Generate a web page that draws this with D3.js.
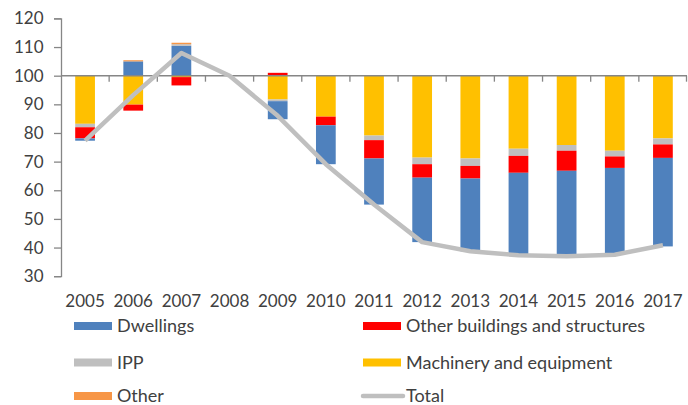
<!DOCTYPE html>
<html>
<head>
<meta charset="utf-8">
<script src="https://cdn.jsdelivr.net/npm/d3@7"></script>
<style>
  html, body { margin: 0; padding: 0; background: #fff; }
  svg text { font-family: Lato, "Open Sans", sans-serif; fill: #404040; }
</style>
</head>
<body>
<svg id="chart" width="688" height="405"></svg>
<script>
// ---- data ----
const years = ["2005","2006","2007","2008","2009","2010","2011","2012","2013","2014","2015","2016","2017"];
const dwellings      = [-0.8, 5.0, 10.4, 0, -6.3, -13.6, -16.1, -22.5, -25.4, -28.8, -29.8, -30.3, -30.9];
const otherBuildings = [-3.9, -2.1, -2.9, 0, 1.0, -3.0, -6.4, -4.7, -4.4, -5.9, -7.0, -4.0, -4.7];
const ipp            = [-1.2, 0, 0.6, 0, -0.6, 0, -1.6, -2.3, -2.6, -2.5, -2.0, -2.0, -2.1];
const machinery      = [-16.8, -10.1, -0.5, 0, -8.3, -14.3, -20.9, -28.6, -28.9, -25.5, -24.2, -26.2, -21.9];
const other          = [0, 0.4, 0.5, 0, 0, 0, 0, 0, 0, 0, 0, 0, 0];
const total          = [77.3, 93.2, 107.9, 100, 86.0, 69.1, 55.0, 41.9, 38.7, 37.3, 37.0, 37.5, 40.8];
const yTicks = [30, 40, 50, 60, 70, 80, 90, 100, 110, 120];
const baseValue = 100;

const series = [
  { name: "Dwellings", values: dwellings, color: "#4F81BD" },
  { name: "Other buildings and structures", values: otherBuildings, color: "#FF0000" },
  { name: "IPP", values: ipp, color: "#BFBFBF" },
  { name: "Machinery and equipment", values: machinery, color: "#FFC000" },
  { name: "Other", values: other, color: "#F79646" }
];

// ---- scales ----
const svg = d3.select("#chart");
const x = d3.scaleBand().domain(years).range([61, 687]).padding(0);
const y = d3.scaleLinear().domain([30, 120]).range([276.2, 18.4]);
const barW = x.bandwidth() * 0.41;

// ---- stacked segments: positives in series order, negatives in reverse order ----
const segs = [];
years.forEach((yr, i) => {
  let pos = baseValue;
  series.forEach(s => {
    const v = s.values[i];
    if (v > 0) { segs.push({ yr, y0: pos, y1: pos + v, color: s.color }); pos += v; }
  });
  let neg = baseValue;
  series.slice().reverse().forEach(s => {
    const v = s.values[i];
    if (v < 0) { segs.push({ yr, y0: neg + v, y1: neg, color: s.color }); neg += v; }
  });
});

svg.append("g").selectAll("rect").data(segs).join("rect")
  .attr("x", d => x(d.yr) + (x.bandwidth() - barW) / 2)
  .attr("width", barW)
  .attr("y", d => y(d.y1))
  .attr("height", d => y(d.y0) - y(d.y1))
  .attr("fill", d => d.color);

// ---- y axis ----
const yAxis = svg.append("g").attr("transform", "translate(61,0)")
  .call(d3.axisLeft(y).tickValues(yTicks).tickSize(7).tickPadding(10.5).tickFormat(d3.format("d")));
yAxis.select(".domain").attr("stroke", "#868686").attr("stroke-width", 1.3);
yAxis.selectAll(".tick line").attr("stroke", "#868686").attr("stroke-width", 1.3);
yAxis.selectAll(".tick text").attr("font-size", 17).style("fill", "#404040");

// ---- x axis at base value ----
const xg = svg.append("g").attr("transform", `translate(0,${y(baseValue)})`);
xg.append("line").attr("x1", 61).attr("x2", 687).attr("y1", 0).attr("y2", 0)
  .attr("stroke", "#868686").attr("stroke-width", 1.6);
xg.selectAll("line.tk").data(years.slice(1).concat(["end"])).join("line")
  .attr("class", "tk")
  .attr("x1", d => d === "end" ? 686.5 : x(d)).attr("x2", d => d === "end" ? 686.5 : x(d))
  .attr("y1", 0).attr("y2", 6)
  .attr("stroke", "#868686").attr("stroke-width", 1.3);

// x labels at bottom
svg.append("g").selectAll("text").data(years).join("text")
  .attr("x", d => x(d) + x.bandwidth() / 2)
  .attr("y", 306.5)
  .attr("text-anchor", "middle")
  .attr("font-size", 17)
  .text(d => d);

// ---- total line ----
const line = d3.line()
  .x((d, i) => x(years[i]) + x.bandwidth() / 2)
  .y(d => y(d));
svg.append("path").datum(total)
  .attr("d", line)
  .attr("fill", "none")
  .attr("stroke", "#BFBFBF")
  .attr("stroke-width", 4.5)
  .attr("stroke-linejoin", "round");

// ---- legend ----
const legendItems = [
  { name: "Dwellings", color: "#4F81BD", type: "rect" },
  { name: "Other buildings and structures", color: "#FF0000", type: "rect" },
  { name: "IPP", color: "#BFBFBF", type: "rect" },
  { name: "Machinery and equipment", color: "#FFC000", type: "rect" },
  { name: "Other", color: "#F79646", type: "rect" },
  { name: "Total", color: "#BFBFBF", type: "line" }
];
const colX = [74, 363];
const rowY = [326, 362.5, 396];
const lg = svg.append("g").selectAll("g").data(legendItems).join("g")
  .attr("transform", (d, i) => `translate(${colX[i % 2]},${rowY[Math.floor(i / 2)]})`);
lg.filter(d => d.type === "rect").append("rect")
  .attr("x", 0).attr("y", -4).attr("width", 38).attr("height", 8)
  .attr("fill", d => d.color);
lg.filter(d => d.type === "line").append("line")
  .attr("x1", 0).attr("x2", 40).attr("y1", 0).attr("y2", 0)
  .attr("stroke", d => d.color).attr("stroke-width", 4.5).attr("stroke-linecap", "round");
lg.append("text")
  .attr("x", 43)
  .attr("y", 6)
  .attr("font-size", 18)
  .text(d => d.name);
</script>
</body>
</html>
